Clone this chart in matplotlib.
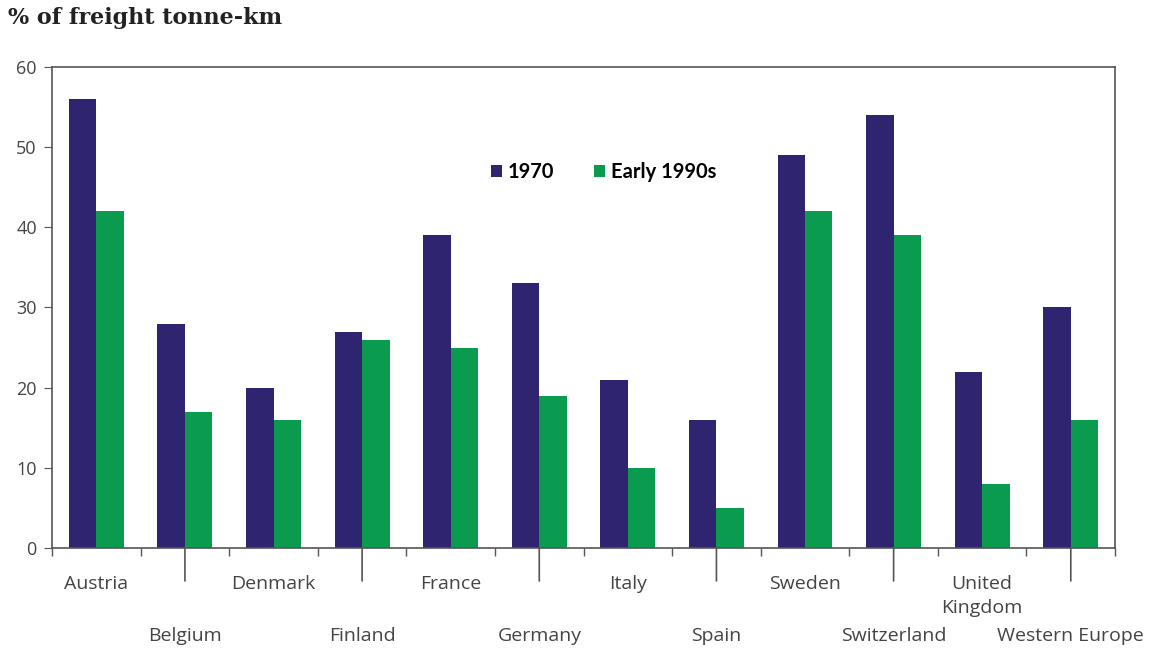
import numpy as np
import matplotlib.pyplot as plt

# données
pays = ['Austria', 'Belgium', 'Denmark', 'Finland', 'France', 'Germany',
        'Italy', 'Spain', 'Sweden', 'Switzerland', 'United\nKingdom',
        'Western Europe']
v1970 = [56, 28, 20, 27, 39, 33, 21, 16, 49, 54, 22, 30]
v1990 = [42, 17, 16, 26, 25, 19, 10, 5, 42, 39, 8, 16]

navy = '#2f2470'
green = '#0b9b4e'
grey = '#444444'

plt.rcParams['font.family'] = ['Open Sans', 'DejaVu Sans']

fig, ax = plt.subplots(figsize=(11.75, 6.55), dpi=100)
fig.subplots_adjust(left=0.0443, right=0.949, top=0.8977, bottom=0.1634)

x = np.arange(len(pays))
w = 0.31
ax.bar(x - w/2, v1970, w, color=navy, label='1970')
ax.bar(x + w/2, v1990, w, color=green, label='Early 1990s')

ax.set_xlim(-0.5, len(pays) - 0.5)
ax.set_ylim(0, 60)
ax.set_yticks(range(0, 61, 10))
ax.tick_params(axis='y', direction='out', length=6, color='#555555',
               labelsize=13, labelcolor=grey, pad=5)

for sp in ax.spines.values():
    sp.set_color('#555555')
    sp.set_linewidth(1.2)

# petits traits aux limites des catégories
ax.set_xticks(np.arange(-0.5, len(pays), 1.0))
ax.set_xticklabels([])
ax.tick_params(axis='x', which='major', direction='out', length=6,
               color='#555555', width=1)

# étiquettes sur deux rangées, longs traits pour la deuxième rangée
for i, nom in enumerate(pays):
    if i % 2 == 0:
        off = -27
    else:
        off = -79
        ax.annotate('', xy=(i, 0), xycoords=('data', 'axes fraction'),
                    xytext=(0, -33), textcoords='offset pixels',
                    arrowprops=dict(arrowstyle='-', color='#555555', lw=1.2,
                                    shrinkA=0, shrinkB=0))
    ax.annotate(nom, xy=(i, 0), xycoords=('data', 'axes fraction'),
                xytext=(0, off), textcoords='offset pixels',
                ha='center', va='top', fontsize=14, color=grey,
                linespacing=1.4)

ax.legend(loc='center left', bbox_to_anchor=(0.403, 0.782), ncol=2,
          frameon=False, borderpad=0, handlelength=0.55, handleheight=0.55,
          handletextpad=0.3, columnspacing=2.0,
          prop={'family': 'Lato', 'weight': 'bold', 'size': 14.5})

fig.text(0.007, 0.972, '% of freight tonne-km', fontsize=16, weight='bold',
         family='DejaVu Serif', color='#222222', va='center')

plt.savefig('out.png', dpi=100)
